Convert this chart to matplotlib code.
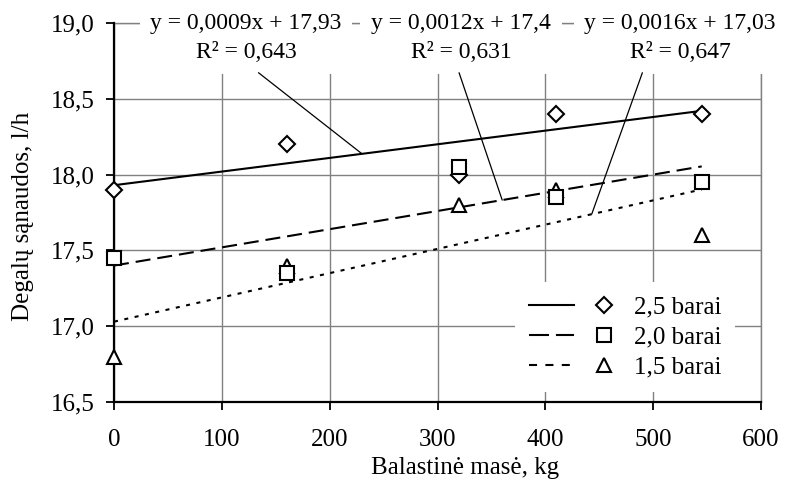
import numpy as np
import matplotlib
matplotlib.use("Agg")
import matplotlib.pyplot as plt
from matplotlib.lines import Line2D
from matplotlib.legend_handler import HandlerTuple


# =============================================================================
# PARAMETRES POLICE
# =============================================================================
FONT_SIZE = 18
EQ_SIZE = 17

plt.rcParams.update({
    "font.family": ["Liberation Serif", "DejaVu Serif"],
    "font.size": FONT_SIZE,
    "axes.labelsize": FONT_SIZE,
    "xtick.labelsize": FONT_SIZE,
    "ytick.labelsize": FONT_SIZE,
    "legend.fontsize": FONT_SIZE,
    "lines.scale_dashes": False,
})


# =============================================================================
# DONNEES
# =============================================================================
mass = [0, 160, 320, 410, 545]

fuel_25 = [17.9, 18.2, 18.0, 18.4, 18.4]
fuel_20 = [17.45, 17.35, 18.05, 17.85, 17.95]
fuel_15 = [16.8, 17.4, 17.8, 17.9, 17.6]

series_names = ["2,5 barai", "2,0 barai", "1,5 barai"]

# trend lines, as printed on the chart
slopes = [0.0009, 0.0012, 0.0016]
intercepts = [17.93, 17.4, 17.03]
slope_txt = ["0,0009", "0,0012", "0,0016"]
intercept_txt = ["17,93", "17,4", "17,03"]
r2_txt = ["0,643", "0,631", "0,647"]

x_ticks = [0, 100, 200, 300, 400, 500, 600]
y_ticks = [16.5, 17.0, 17.5, 18.0, 18.5, 19.0]
y_tick_labels = ["16,5", "17,0", "17,5", "18,0", "18,5", "19,0"]


# =============================================================================
# STYLES
# =============================================================================
GRID_COLOR = "#808080"
LINE_W = 1.5

trend_styles = [
    dict(linestyle="-"),
    dict(dashes=[10.8, 5.0]),
    dict(dashes=[2.9, 4.7]),
]
legend_styles = [
    dict(linestyle="-"),
    dict(dashes=[14.4, 5.0]),
    dict(dashes=[5.8, 6.0]),
]
markers = ["D", "s", "^"]
marker_sizes = [8.6, 10, 10]

# label centres (pixels) and leader lines (start x, end x on the trend line)
label_x = [246, 461, 680]
leader_start_x = [134, 320, 490]
leader_end_x = [230, 360, 443]
leader_start_y = 18.672


# =============================================================================
# FIGURE
# =============================================================================
fig = plt.figure(figsize=(7.85, 4.79), dpi=100)
ax = fig.add_axes([114 / 785, 1 - 402 / 479, 647 / 785, 379 / 479])

ax.set_xlim(0, 600)
ax.set_ylim(16.5, 19.0)

ax.grid(True, color=GRID_COLOR, linewidth=1.0, zorder=0)
ax.set_axisbelow(True)

# trend lines
x_end = [min(mass), max(mass)]
for m, b, st in zip(slopes, intercepts, trend_styles):
    ax.plot(x_end, [b + m * xe for xe in x_end], color="k", linewidth=LINE_W,
            zorder=3, **st)

# points (squares last, they sit on top in the original)
ys = [fuel_25, fuel_20, fuel_15]
for i in [0, 2, 1]:
    ax.plot(mass, ys[i], linestyle="none", marker=markers[i],
            markersize=marker_sizes[i], markerfacecolor="white",
            markeredgecolor="k", markeredgewidth=1.5, zorder=6,
            clip_on=False)


# =============================================================================
# EQUATIONS + LEADERS
# =============================================================================
for i in range(3):
    txt = "y = %sx + %s\nR² = %s" % (slope_txt[i], intercept_txt[i], r2_txt[i])
    xa = (label_x[i] - 114) / 647
    ax.text(xa, (402 - 38) / 379, txt, transform=ax.transAxes,
            ha="center", va="center", linespacing=1.55, zorder=7,
            fontsize=EQ_SIZE,
            bbox=dict(boxstyle="square,pad=0.45", facecolor="white",
                      edgecolor="none"))
    xe = leader_end_x[i]
    ax.annotate("", xy=(xe, intercepts[i] + slopes[i] * xe),
                xytext=(leader_start_x[i], leader_start_y),
                arrowprops=dict(arrowstyle="-", color="k", lw=0.9,
                                shrinkA=0, shrinkB=0), zorder=8)


# =============================================================================
# AXES
# =============================================================================
ax.set_xticks(x_ticks)
ax.set_yticks(y_ticks)
ax.set_yticklabels(y_tick_labels)

ax.tick_params(axis="both", direction="out", length=5.8, width=1.3,
               color="k")
ax.tick_params(axis="x", pad=14)
ax.tick_params(axis="y", pad=8)

for side in ["left", "bottom"]:
    ax.spines[side].set_linewidth(1.6)
    ax.spines[side].set_color("k")
    ax.spines[side].set_zorder(5)
for side in ["top", "right"]:
    ax.spines[side].set_linewidth(1.0)
    ax.spines[side].set_color(GRID_COLOR)

ax.set_xlabel("Balastinė masė, kg")
ax.xaxis.set_label_coords(0.543, -0.145)
ax.set_ylabel("Degalų sąnaudos, l/h")
ax.yaxis.set_label_coords(-0.123, 0.49)


# =============================================================================
# LEGENDE
# =============================================================================
handles = []
for i in range(3):
    ln = Line2D([], [], color="k", linewidth=LINE_W, **legend_styles[i])
    mk = Line2D([], [], linestyle="none", marker=markers[i],
                markersize=marker_sizes[i], markerfacecolor="white",
                markeredgecolor="k", markeredgewidth=1.5)
    handles.append((ln, mk))

leg = ax.legend(handles, series_names,
                handler_map={tuple: HandlerTuple(ndivide=None, pad=0.32)},
                loc="lower right", bbox_to_anchor=(0.96, 0.026),
                borderaxespad=0, frameon=True, fancybox=False,
                facecolor="white", edgecolor="none", framealpha=1,
                handlelength=3.92, handletextpad=0.28, labelspacing=0.3,
                borderpad=0.55, numpoints=1)
leg.set_zorder(9)

fig.savefig("out.png", dpi=100)
